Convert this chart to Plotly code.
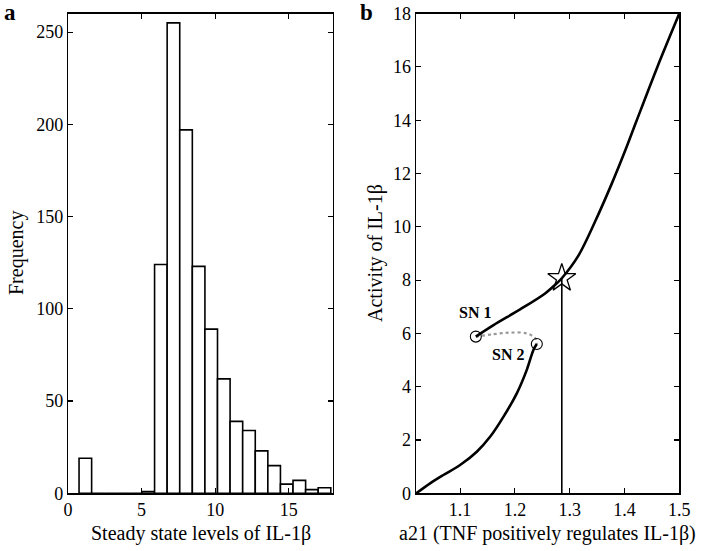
import plotly.graph_objects as go

# ---------------- data: panel a (histogram) ----------------
bin_start = 0.75
bin_width = 0.855
counts = [19, 0, 0, 0, 0, 1, 124, 255, 197, 123, 89, 62, 39, 34, 23, 15, 5, 7, 2, 3]
bin_centers = [bin_start + (i + 0.5) * bin_width for i in range(len(counts))]

# ---------------- data: panel b (bifurcation) ----------------
upper_x = [1.1287, 1.161, 1.2095, 1.2551, 1.2765, 1.2856, 1.3159, 1.3464, 1.3768, 1.4011, 1.4215, 1.46, 1.5]
upper_y = [5.88, 6.31, 6.90, 7.50, 7.88, 8.07, 8.92, 10.2, 11.62, 12.85, 13.95, 16.0, 18.0]
lower_x = [1.02, 1.0453, 1.0695, 1.1, 1.1305, 1.1547, 1.179, 1.2035, 1.2217, 1.2338, 1.240]
lower_y = [0.0, 0.375, 0.687, 1.06, 1.56, 2.12, 2.87, 3.75, 4.63, 5.38, 5.60]
unstable_x = [1.1287, 1.1608, 1.1912, 1.2217, 1.2369, 1.240]
unstable_y = [5.88, 5.97, 6.03, 6.00, 5.82, 5.60]
sn_x = [1.1287, 1.240]
sn_y = [5.88, 5.60]
sn_labels = ["SN 1", "SN 2"]
sn_label_x = [1.1274, 1.1876]
sn_label_y = [6.77, 5.19]
star_x = 1.2856
star_y = 8.07

FONT = "Liberation Serif, Times New Roman, serif"
W, H = 717, 551

fig = go.Figure()

fig.add_trace(go.Bar(
    x=bin_centers, y=counts, width=bin_width,
    marker=dict(color="white", line=dict(color="black", width=1.6)),
    xaxis="x", yaxis="y", showlegend=False))

fig.add_trace(go.Scatter(
    x=unstable_x, y=unstable_y, mode="lines",
    line=dict(color="#999999", width=2.2, dash="dot", shape="spline"),
    xaxis="x2", yaxis="y2", showlegend=False))
fig.add_trace(go.Scatter(
    x=upper_x, y=upper_y, mode="lines",
    line=dict(color="black", width=2.6, shape="spline", smoothing=0.9),
    xaxis="x2", yaxis="y2", showlegend=False))
fig.add_trace(go.Scatter(
    x=lower_x, y=lower_y, mode="lines",
    line=dict(color="black", width=2.6, shape="spline", smoothing=0.9),
    xaxis="x2", yaxis="y2", showlegend=False))
fig.add_trace(go.Scatter(
    x=[star_x, star_x], y=[0, star_y], mode="lines",
    line=dict(color="black", width=1.6),
    xaxis="x2", yaxis="y2", showlegend=False))
fig.add_trace(go.Scatter(
    x=sn_x, y=sn_y, mode="markers",
    marker=dict(symbol="circle-open", size=11, color="black", line=dict(width=1.1)),
    xaxis="x2", yaxis="y2", showlegend=False))
fig.add_trace(go.Scatter(
    x=[star_x], y=[star_y], mode="markers",
    marker=dict(symbol="star-open", size=21, color="black", line=dict(width=1.3)),
    xaxis="x2", yaxis="y2", showlegend=False))

x1d = [68 / W, 333 / W]
x2d = [415.7 / W, 679.3 / W]
yd = [(H - 493.3) / H, (H - 13.6) / H]

axis_common = dict(
    showline=True, linecolor="black", linewidth=1.2, mirror="ticks",
    ticks="inside", ticklen=5, tickwidth=1.1, tickcolor="black",
    showgrid=False, zeroline=False, automargin=False,
    tickfont=dict(family=FONT, size=18, color="black"),
)

fig.update_layout(
    template="none",
    width=W, height=H,
    margin=dict(l=0, r=0, t=0, b=0, pad=0),
    paper_bgcolor="white", plot_bgcolor="white",
    font=dict(family=FONT, color="black"),
    bargap=0, showlegend=False,
    xaxis=dict(domain=x1d, range=[0, 18], tickvals=[0, 5, 10, 15], anchor="y", **axis_common),
    yaxis=dict(domain=yd, range=[0, 260], tickvals=[0, 50, 100, 150, 200, 250], anchor="x", **axis_common),
    xaxis2=dict(domain=x2d, range=[1.019, 1.5], tickvals=[1.1, 1.2, 1.3, 1.4, 1.5],
                ticktext=["1.1", "1.2", "1.3", "1.4", "1.5"], anchor="y2", **axis_common),
    yaxis2=dict(domain=yd, range=[0, 18], tickvals=list(range(0, 19, 2)), anchor="x2", **axis_common),
)

ann = []
def pa(text, xpx, ypx, size, angle=0, bold=False):
    ann.append(dict(text=f"<b>{text}</b>" if bold else text, xref="paper", yref="paper",
                    x=xpx / W, y=(H - ypx) / H, xanchor="center", yanchor="middle",
                    showarrow=False, textangle=angle,
                    font=dict(family=FONT, size=size, color="black")))

pa("Frequency", 17, 253, 20, angle=-90)
pa("Activity of IL-1β", 376, 253, 20, angle=-90)
pa("Steady state levels of IL-1β", 200.5, 533, 20)
pa("a21 (TNF positively regulates IL-1β)", 547.5, 533, 20)
pa("a", 10, 12, 23, bold=True)
pa("b", 367, 12, 23, bold=True)

for t, lx, ly in zip(sn_labels, sn_label_x, sn_label_y):
    ann.append(dict(text=f"<b>{t}</b>", xref="x2", yref="y2", x=lx, y=ly,
                    xanchor="center", yanchor="middle", showarrow=False,
                    font=dict(family=FONT, size=16, color="black")))

fig.update_layout(annotations=ann)
fig.write_html("out.html",
               config={"displayModeBar": False, "staticPlot": True},
               post_script="document.body.style.margin='0';document.body.style.overflow='hidden';")
